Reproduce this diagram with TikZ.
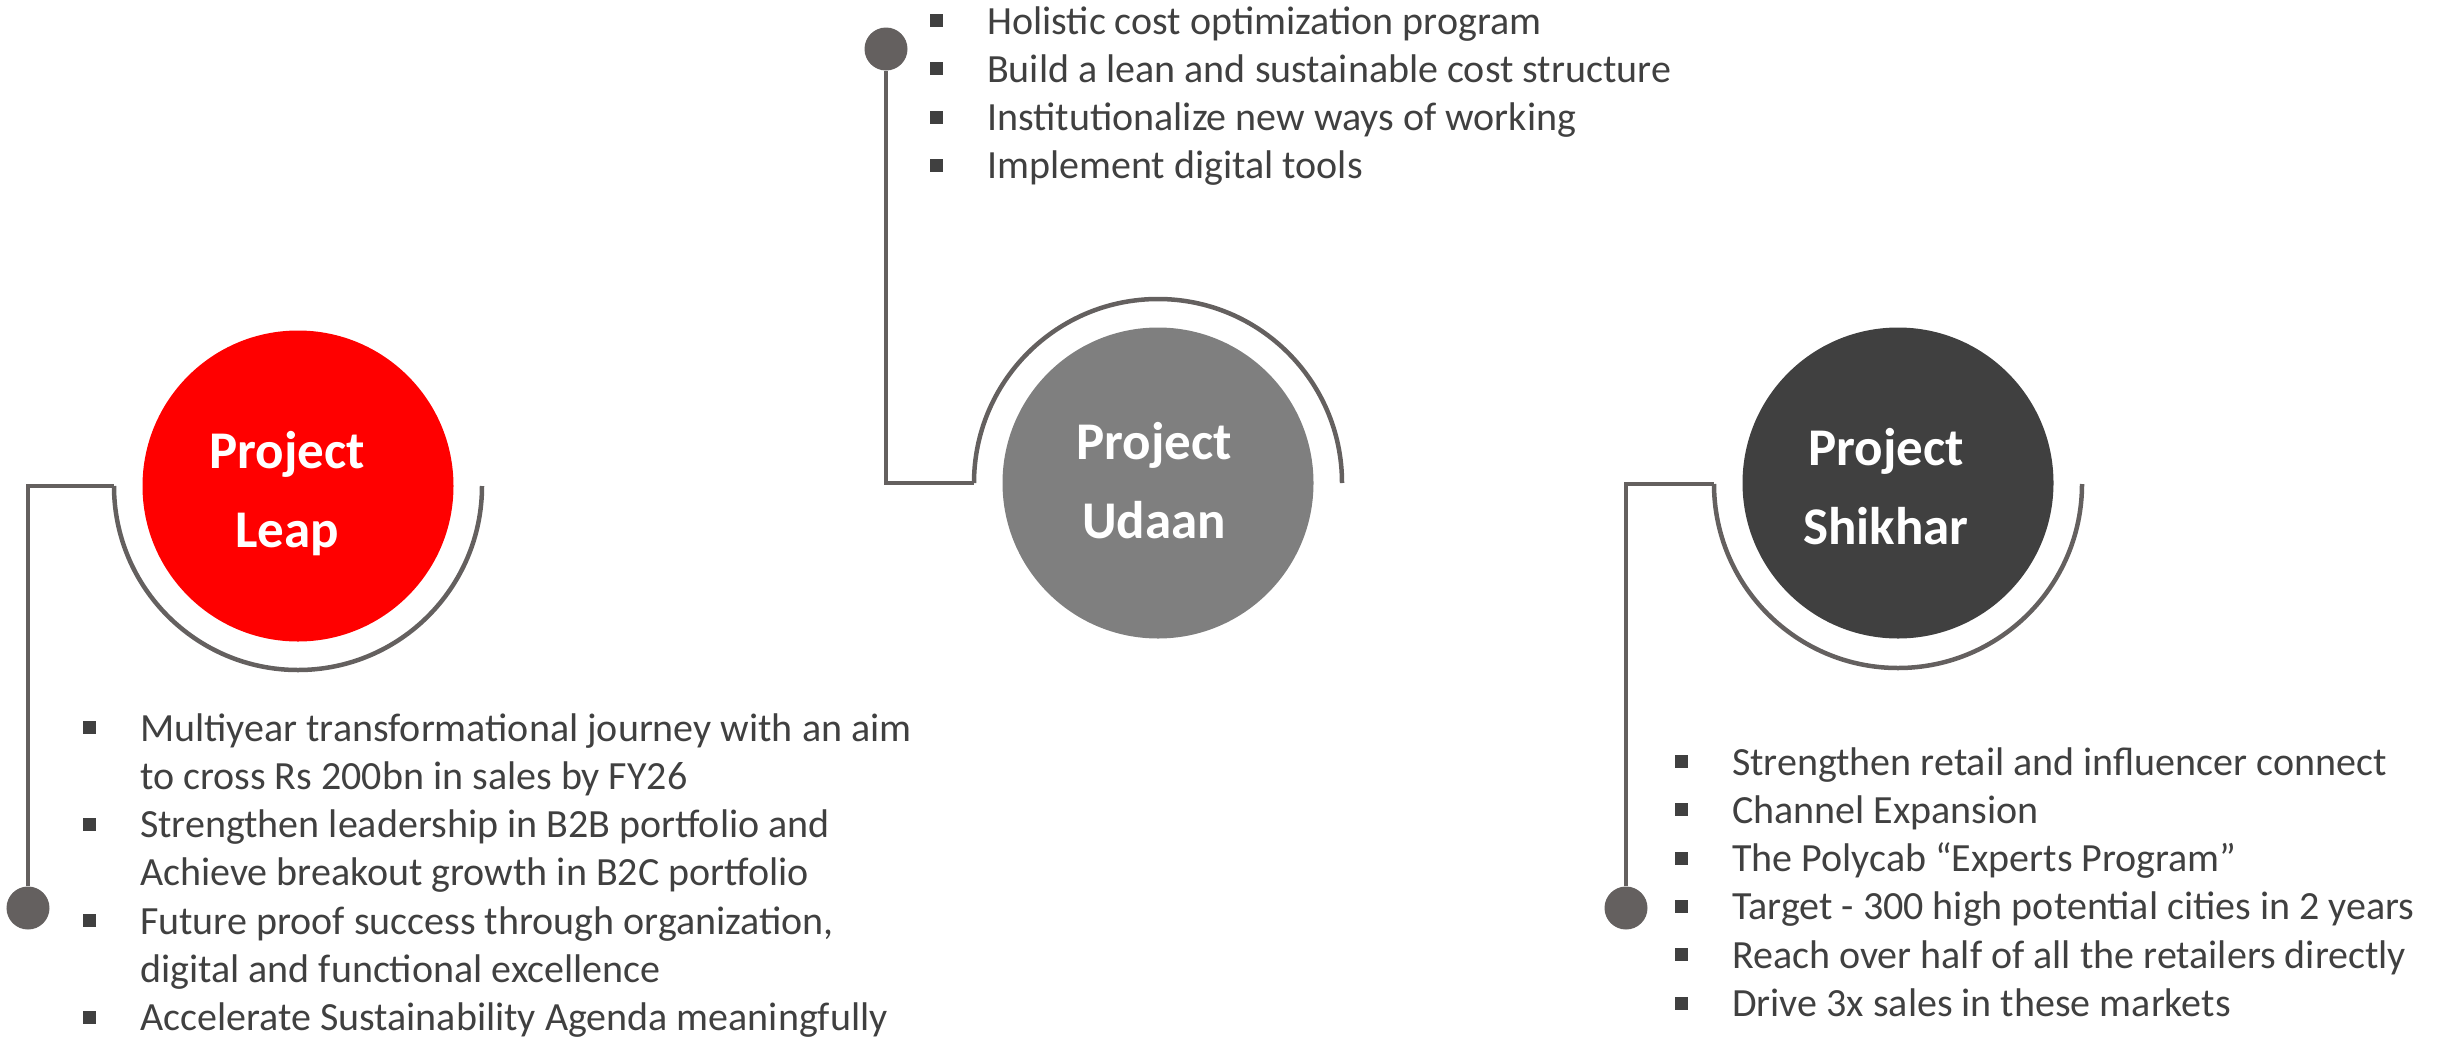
\documentclass[tikz,border=0pt]{standalone}
\usepackage{fontspec}
\setmainfont{Carlito}
\definecolor{linegray}{RGB}{100,96,95}
\definecolor{txtgray}{RGB}{64,64,64}
\definecolor{leapred}{RGB}{255,0,0}
\definecolor{udaangray}{RGB}{127,127,127}
\definecolor{shikhardark}{RGB}{64,64,64}
% square bullet followed by the indent of the item text
\newcommand{\sqitem}{\makebox[57bp][l]{\rule[7bp]{13bp}{13bp}}}
\begin{document}
\begin{tikzpicture}[x=1bp,y=-1bp,
  project/.style={circle,inner sep=0pt,minimum size=311bp},
  ring/.style={draw=linegray,line width=4.5bp},
  leader/.style={draw=linegray,line width=4.5bp},
  knob/.style={circle,fill=linegray,inner sep=0pt,minimum size=43bp},
  title/.style={inner sep=0pt,anchor=base,text=white,font=\bfseries\fontsize{53bp}{79bp}\selectfont},
  bullets/.style={inner sep=0pt,anchor=base west,text=txtgray,font=\fontsize{40bp}{48.3bp}\selectfont}]
\useasboundingbox (0,0) rectangle (2441,1037);

% ---- Project Leap ----
\node[project,fill=leapred] (leap) at (298,486) {};
\node[title] (leapT) at (287,468) {\begin{tabular}[t]{@{}c@{}}Project\\Leap\end{tabular}};
\coordinate (leapL) at (114,486);
\node[knob] (leapdot) at (28,908) {};
\draw[ring] (leapL) arc[start angle=180,end angle=0,radius=184];
\draw[leader] (leapL) -- (28,486) -- (leapdot);
\node[bullets] (leapB) at (83,741) {\begin{tabular}[t]{@{}l@{}l@{}}
\sqitem & Multiyear transformational journey with an aim\\
 & to cross Rs 200bn in sales by FY26\\
\sqitem & Strengthen leadership in B2B portfolio and\\
 & Achieve breakout growth in B2C portfolio\\
\sqitem & Future proof success through organization,\\
 & digital and functional excellence\\
\sqitem & Accelerate Sustainability Agenda meaningfully
\end{tabular}};

% ---- Project Udaan ----
\node[project,fill=udaangray] (udaan) at (1158,483) {};
\node[title] (udaanT) at (1154,459) {\begin{tabular}[t]{@{}c@{}}Project\\Udaan\end{tabular}};
\coordinate (udaanL) at (974,483);
\node[knob] (udaandot) at (886,49) {};
\draw[ring] (udaanL) arc[start angle=180,end angle=360,radius=184];
\draw[leader] (udaanL) -- (886,483) -- (udaandot);
\node[bullets] (udaanB) at (930,34) {\begin{tabular}[t]{@{}l@{}l@{}}
\sqitem & Holistic cost optimization program\\
\sqitem & Build a lean and sustainable cost structure\\
\sqitem & Institutionalize new ways of working\\
\sqitem & Implement digital tools
\end{tabular}};

% ---- Project Shikhar ----
\node[project,fill=shikhardark] (shikhar) at (1898,483) {};
\node[title] (shikharT) at (1886,465) {\begin{tabular}[t]{@{}c@{}}Project\\Shikhar\end{tabular}};
\coordinate (shikharL) at (1714,484);
\node[knob] (shikhardot) at (1626,908) {};
\draw[ring] (shikharL) arc[start angle=180,end angle=0,radius=184];
\draw[leader] (shikharL) -- (1626,484) -- (shikhardot);
\node[bullets] (shikharB) at (1675,775) {\begin{tabular}[t]{@{}l@{}l@{}}
\sqitem & Strengthen retail and influencer connect\\
\sqitem & Channel Expansion\\
\sqitem & The Polycab “Experts Program”\\
\sqitem & Target - 300 high potential cities in 2 years\\
\sqitem & Reach over half of all the retailers directly\\
\sqitem & Drive 3x sales in these markets
\end{tabular}};
\end{tikzpicture}
\end{document}
